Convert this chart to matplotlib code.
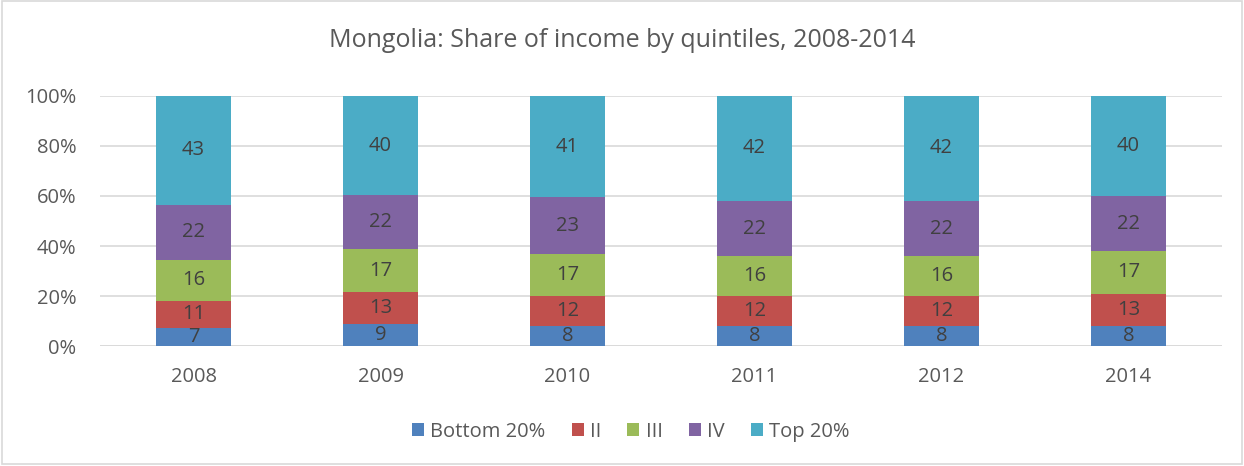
import matplotlib
matplotlib.use("Agg")
import matplotlib.pyplot as plt
import numpy as np
from matplotlib.patches import Rectangle

years = ["2008", "2009", "2010", "2011", "2012", "2014"]
quintiles = ["Bottom 20%", "II", "III", "IV", "Top 20%"]
bottom20 = [7, 9, 8, 8, 8, 8]
q2 = [11, 13, 12, 12, 12, 13]
q3 = [16, 17, 17, 16, 16, 17]
q4 = [22, 22, 23, 22, 22, 22]
top20 = [43, 40, 41, 42, 42, 40]
colors = ["#4F81BD", "#C0504D", "#9BBB59", "#8064A2", "#4BACC6"]

plt.rcParams["font.family"] = ["Open Sans", "DejaVu Sans"]

series = np.array([bottom20, q2, q3, q4, top20], dtype=float)
shares = series / series.sum(axis=0) * 100

fig = plt.figure(figsize=(12.44, 4.66), dpi=100)
ax = fig.add_axes([0.0804, 0.2575, 0.9019, 0.5365])

x = np.arange(len(years))
base = np.zeros(len(years))
for name, vals, share, c in zip(quintiles, series, shares, colors):
    ax.bar(x, share, bottom=base, width=0.4, color=c, label=name, zorder=3)
    for xi, b, s, v in zip(x, base, share, vals):
        ax.text(xi, b + s / 2, f"{v:.0f}", ha="center", va="center",
                fontsize=14.5, color="#404040", zorder=4)
    base += share

ax.set_xlim(-0.5, len(years) - 0.5)
ax.set_ylim(0, 100)
ax.set_yticks(range(0, 101, 20))
ax.set_yticklabels([f"{t}%" for t in range(0, 101, 20)])
ax.set_xticks(x)
ax.set_xticklabels(years)
ax.tick_params(length=0, labelsize=14.5, colors="#595959")
ax.tick_params(axis="y", pad=17)
ax.tick_params(axis="x", pad=15)
ax.grid(axis="y", color="#D9D9D9", linewidth=1.2, zorder=0)
for sp in ax.spines.values():
    sp.set_visible(False)
ax.axhline(0, color="#D9D9D9", linewidth=1.2, zorder=1)

fig.suptitle("Mongolia: Share of income by quintiles, 2008-2014",
             y=0.94, fontsize=18, color="#595959")
fig.legend(loc="center", bbox_to_anchor=(0.507, 0.073), ncol=5, frameon=False,
           fontsize=14.5, labelcolor="#595959", handlelength=0.6, handleheight=0.6,
           handletextpad=0.3, columnspacing=1.3)

fig.patches.append(Rectangle((0.002, 0.004), 0.996, 0.994, transform=fig.transFigure,
                             fill=False, edgecolor="#D9D9D9", linewidth=1.2))

fig.savefig("out.png", dpi=100)
